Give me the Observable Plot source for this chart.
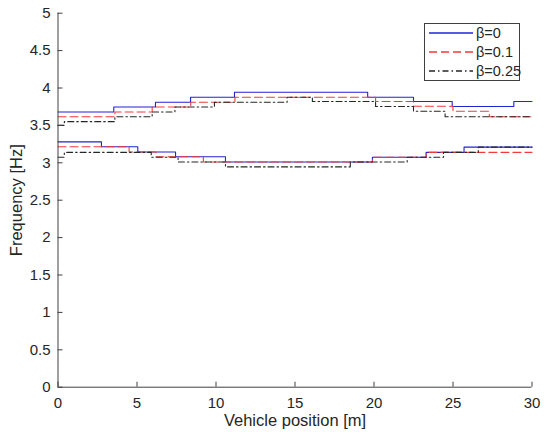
<!DOCTYPE html>
<html>
<head>
<meta charset="utf-8">
<script src="https://cdn.jsdelivr.net/npm/d3@7"></script>
<script src="https://cdn.jsdelivr.net/npm/@observablehq/plot@0.6"></script>
<style>
  html, body { margin: 0; padding: 0; background: #fff; }
  #wrap { position: relative; width: 550px; height: 438px; font-family: "Liberation Sans", Arial, sans-serif; }
  #legend { position: absolute; left: 424px; top: 23px; width: 96px; height: 58px; border: 1px solid #404040; background: #fff; box-sizing: border-box; font-size: 14.5px; color: #262626; }
  #legend .row { position: absolute; left: 4px; height: 16px; display: flex; align-items: center; }
  #legend svg { margin-right: 3px; }
</style>
</head>
<body>
<div id="wrap"></div>
<script>
// Tick labels
const xTicks = [0, 5, 10, 15, 20, 25, 30];
const yTicks = [0, 0.5, 1, 1.5, 2, 2.5, 3, 3.5, 4, 4.5, 5];
const seriesNames = ["β=0", "β=0.1", "β=0.25"];

// Upper branch (step breakpoints and values)
const blueUpperX = [0, 3.53, 6.17, 8.39, 11.17, 19.6, 22.5, 24.95, 28.85, 30];
const blueUpperY = [3.68, 3.745, 3.81, 3.877, 3.944, 3.877, 3.82, 3.753, 3.82, 3.82];
const redUpperX = [0, 3.6, 5.96, 8.4, 11.2, 20.1, 22.5, 25, 27.3, 30];
const redUpperY = [3.615, 3.68, 3.745, 3.81, 3.877, 3.82, 3.757, 3.69, 3.615, 3.615];
const blackUpperX = [0, 0.4, 3.6, 5.96, 7.4, 9.9, 14.5, 16.1, 20.1, 22.5, 24.5, 30];
const blackUpperY = [3.5, 3.55, 3.615, 3.68, 3.745, 3.81, 3.877, 3.82, 3.753, 3.69, 3.615, 3.615];

// Lower branch
const blueLowerX = [0, 2.75, 5.05, 7.44, 10.6, 19.9, 23.3, 25.7, 30];
const blueLowerY = [3.28, 3.215, 3.145, 3.08, 3.01, 3.075, 3.14, 3.21, 3.21];
const redLowerX = [0, 4.5, 6.2, 9.2, 19.9, 23.3, 30];
const redLowerY = [3.215, 3.145, 3.08, 3.01, 3.075, 3.14, 3.14];
const blackLowerX = [0, 0.4, 5.9, 7.6, 10.6, 18.5, 22.1, 24.4, 26.6, 30];
const blackLowerY = [3.075, 3.14, 3.075, 3.01, 2.945, 3.01, 3.075, 3.14, 3.21, 3.21];

const colors = {"β=0": "#2222d8", "β=0.1": "#f23a3a", "β=0.25": "#262626"};
const dashes = {"β=0": null, "β=0.1": "8,4", "β=0.25": "6,3,1.5,3"};

function pts(xs, ys) { return xs.map((x, i) => ({x, y: ys[i]})); }

const lines = [
  {name: "β=0", data: pts(blueUpperX, blueUpperY)},
  {name: "β=0", data: pts(blueLowerX, blueLowerY)},
  {name: "β=0.1", data: pts(redUpperX, redUpperY)},
  {name: "β=0.1", data: pts(redLowerX, redLowerY)},
  {name: "β=0.25", data: pts(blackUpperX, blackUpperY)},
  {name: "β=0.25", data: pts(blackLowerX, blackLowerY)}
];

const W = 550, H = 438, mL = 57.5, mR = 18.5, mT = 12.7, mB = 51.3;
const innerW = W - mL - mR, innerH = H - mT - mB;

const chart = Plot.plot({
  width: W, height: H,
  marginLeft: mL, marginRight: mR, marginTop: mT, marginBottom: mB,
  style: {fontFamily: "Liberation Sans, Arial, sans-serif", fontSize: "15px", color: "#262626", background: "#fff"},
  x: {domain: [0, 30]},
  y: {domain: [0, 5]},
  marks: [
    ...lines.map(l => Plot.line(l.data, {
      x: "x", y: "y", curve: "step-after",
      stroke: colors[l.name], strokeWidth: 1.1,
      strokeDasharray: dashes[l.name]
    })),
    Plot.ruleX([0], {stroke: "#404040"}),
    Plot.ruleY([0], {stroke: "#404040"}),
    Plot.tickX(xTicks, {x: d => d, insetTop: innerH - 5, stroke: "#404040"}),
    Plot.tickY(yTicks, {y: d => d, insetRight: innerW - 5, stroke: "#404040"}),
    Plot.axisX({ticks: xTicks, tickSize: 0, tickPadding: 10, tickFormat: d => String(d),
      label: "Vehicle position [m]", labelAnchor: "center", labelArrow: "none", labelOffset: 38.5, fontSize: 15}),
    Plot.axisY({ticks: yTicks, tickSize: 0, tickPadding: 7.5, tickFormat: d => String(d),
      label: "Frequency [Hz]", labelAnchor: "center", labelArrow: "none", labelOffset: 48, fontSize: 15})
  ]
});

const wrap = document.getElementById("wrap");
wrap.appendChild(chart);

// style axis titles
d3.select(chart).selectAll("g[aria-label='x-axis label'] text, g[aria-label='y-axis label'] text")
  .style("font-size", "16.5px");

// Legend
const legend = document.createElement("div");
legend.id = "legend";
const rowTops = [1, 20, 39];
seriesNames.forEach((n, i) => {
  const row = document.createElement("div");
  row.className = "row";
  row.style.top = rowTops[i] + "px";
  const dash = dashes[n] ? `stroke-dasharray="${dashes[n]}"` : "";
  row.innerHTML = `<svg width="44" height="16"><line x1="0" x2="44" y1="8" y2="8" stroke="${colors[n]}" stroke-width="1.3" ${dash}/></svg><span>${n}</span>`;
  legend.appendChild(row);
});
wrap.appendChild(legend);
</script>
</body>
</html>
